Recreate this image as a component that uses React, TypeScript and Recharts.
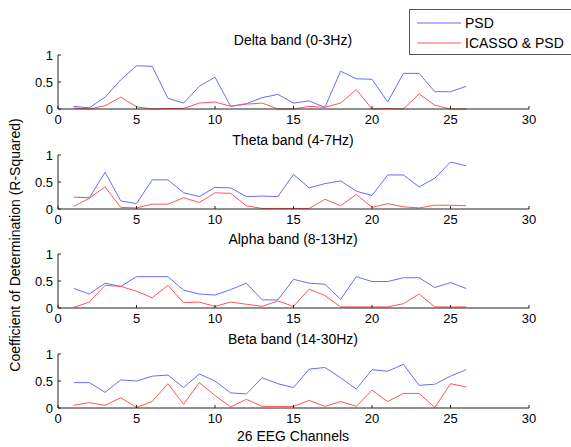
import React from "react";
import { LineChart, Line, XAxis, YAxis } from "recharts";

// 26 EEG channels, R-squared per band
const channels = [1, 2, 3, 4, 5, 6, 7, 8, 9, 10, 11, 12, 13, 14, 15, 16, 17, 18, 19, 20, 21, 22, 23, 24, 25, 26];
const xTicks = [0, 5, 10, 15, 20, 25, 30];
const yTicks = [0, 0.5, 1];

const deltaPsd = [0.05, 0.02, 0.22, 0.54, 0.8, 0.79, 0.2, 0.11, 0.42, 0.59, 0.05, 0.1, 0.21, 0.27, 0.11, 0.15, 0.03, 0.7, 0.56, 0.55, 0.13, 0.66, 0.66, 0.32, 0.32, 0.42];
const deltaIcasso = [0.02, 0.0, 0.06, 0.22, 0.04, 0.0, 0.01, 0.01, 0.11, 0.13, 0.05, 0.09, 0.11, 0.0, 0.0, 0.05, 0.03, 0.11, 0.36, 0.0, 0.01, 0.0, 0.28, 0.07, 0.0, 0.0];

const thetaPsd = [0.22, 0.21, 0.68, 0.15, 0.1, 0.54, 0.54, 0.3, 0.23, 0.4, 0.39, 0.23, 0.24, 0.23, 0.64, 0.39, 0.47, 0.52, 0.33, 0.25, 0.63, 0.63, 0.41, 0.57, 0.87, 0.8];
const thetaIcasso = [0.05, 0.2, 0.41, 0.03, 0.02, 0.09, 0.09, 0.21, 0.12, 0.3, 0.29, 0.06, 0.01, 0.01, 0.01, 0.01, 0.18, 0.06, 0.27, 0.03, 0.1, 0.04, 0.02, 0.07, 0.07, 0.06];

const alphaPsd = [0.36, 0.26, 0.46, 0.4, 0.58, 0.58, 0.58, 0.33, 0.26, 0.24, 0.34, 0.46, 0.15, 0.15, 0.53, 0.46, 0.44, 0.16, 0.58, 0.49, 0.49, 0.56, 0.56, 0.38, 0.47, 0.36];
const alphaIcasso = [0.01, 0.11, 0.42, 0.4, 0.31, 0.19, 0.42, 0.1, 0.11, 0.03, 0.11, 0.07, 0.03, 0.13, 0.03, 0.35, 0.23, 0.02, 0.02, 0.02, 0.02, 0.08, 0.26, 0.02, 0.02, 0.02];

const betaPsd = [0.47, 0.47, 0.29, 0.52, 0.5, 0.59, 0.61, 0.38, 0.63, 0.5, 0.28, 0.26, 0.56, 0.45, 0.38, 0.72, 0.75, 0.56, 0.35, 0.71, 0.68, 0.81, 0.42, 0.44, 0.59, 0.71];
const betaIcasso = [0.05, 0.1, 0.05, 0.19, 0.01, 0.12, 0.45, 0.07, 0.47, 0.23, 0.02, 0.16, 0.03, 0.03, 0.03, 0.14, 0.03, 0.12, 0.03, 0.33, 0.12, 0.27, 0.27, 0.01, 0.45, 0.39];

const FONT = "'Liberation Sans', Arial, sans-serif";
const BLUE = "#6a6aff";
const RED = "#ff5555";
const AXIS = "#222";
const PLOT_H = 54;
const MT = 9; // room above the plot so the "1" tick label isn't clipped

function Panel({ title, psd, icasso, top }: { title: string; psd: number[]; icasso: number[]; top: number }) {
  const data = channels.map((ch, i) => ({ ch, psd: psd[i], icasso: icasso[i] }));
  const noLabel = () => "";
  return (
    <>
      <div
        style={{
          position: "absolute",
          left: 193,
          width: 200,
          top: top - 23,
          textAlign: "center",
          fontSize: 14,
          lineHeight: "16px",
        }}
      >
        {title}
      </div>
      <div style={{ position: "absolute", left: 0, top: top - MT }}>
        <LineChart width={571} height={MT + PLOT_H + 30} data={data} margin={{ top: MT, right: 42, bottom: 0, left: 0 }}>
          <XAxis
            xAxisId="b"
            dataKey="ch"
            type="number"
            domain={[0, 30]}
            ticks={xTicks}
            interval={0}
            height={30}
            tickSize={-3}
            tickMargin={9}
            stroke={AXIS}
            tick={{ fill: "#000", fontSize: 13, fontFamily: FONT }}
          />
          <XAxis
            xAxisId="t"
            orientation="top"
            type="number"
            domain={[0, 30]}
            ticks={xTicks}
            interval={0}
            height={0}
            tickSize={-3}
            stroke={AXIS}
            tickFormatter={noLabel}
          />
          <YAxis
            yAxisId="l"
            type="number"
            domain={[0, 1]}
            ticks={yTicks}
            interval={0}
            width={58}
            tickSize={-3}
            tickMargin={8}
            stroke={AXIS}
            tick={{ fill: "#000", fontSize: 13, fontFamily: FONT }}
          />
          <YAxis
            yAxisId="r"
            orientation="right"
            type="number"
            domain={[0, 1]}
            ticks={yTicks}
            interval={0}
            width={0}
            tickSize={-3}
            stroke={AXIS}
            tickFormatter={noLabel}
          />
          <Line xAxisId="b" yAxisId="l" dataKey="psd" stroke={BLUE} strokeWidth={1} dot={false} isAnimationActive={false} />
          <Line xAxisId="b" yAxisId="l" dataKey="icasso" stroke={RED} strokeWidth={1} dot={false} isAnimationActive={false} />
        </LineChart>
      </div>
    </>
  );
}

export default function App() {
  return (
    <div
      style={{
        position: "absolute",
        left: 0,
        top: 0,
        width: 571,
        height: 447,
        overflow: "hidden",
        background: "#fff",
        fontFamily: FONT,
        color: "#000",
      }}
    >
      <Panel title="Delta band (0-3Hz)" psd={deltaPsd} icasso={deltaIcasso} top={55} />
      <Panel title="Theta band (4-7Hz)" psd={thetaPsd} icasso={thetaIcasso} top={154.5} />
      <Panel title="Alpha band (8-13Hz)" psd={alphaPsd} icasso={alphaIcasso} top={254} />
      <Panel title="Beta band (14-30Hz)" psd={betaPsd} icasso={betaIcasso} top={353.5} />

      {/* y label */}
      <div
        style={{
          position: "absolute",
          left: 15,
          top: 245,
          transform: "translate(-50%, -50%) rotate(-90deg)",
          whiteSpace: "nowrap",
          fontSize: 14,
        }}
      >
        Coefficient of Determination (R-Squared)
      </div>

      {/* x label */}
      <div
        style={{
          position: "absolute",
          left: 193,
          width: 200,
          top: 428,
          textAlign: "center",
          fontSize: 14,
          lineHeight: "16px",
        }}
      >
        26 EEG Channels
      </div>

      {/* legend */}
      <div
        style={{
          position: "absolute",
          left: 409,
          top: 9,
          width: 170,
          height: 44,
          border: "1px solid #555",
          background: "#fff",
          fontSize: 14,
        }}
      >
        {[
          { name: "PSD", color: BLUE },
          { name: "ICASSO & PSD", color: RED },
        ].map((item, i) => (
          <div key={item.name} style={{ position: "absolute", left: 7, top: 5 + i * 20, height: 16, display: "flex", alignItems: "center" }}>
            <svg width={44} height={16}>
              <line x1={0} x2={44} y1={8} y2={8} stroke={item.color} strokeWidth={1} />
            </svg>
            <span style={{ marginLeft: 4 }}>{item.name}</span>
          </div>
        ))}
      </div>
    </div>
  );
}
